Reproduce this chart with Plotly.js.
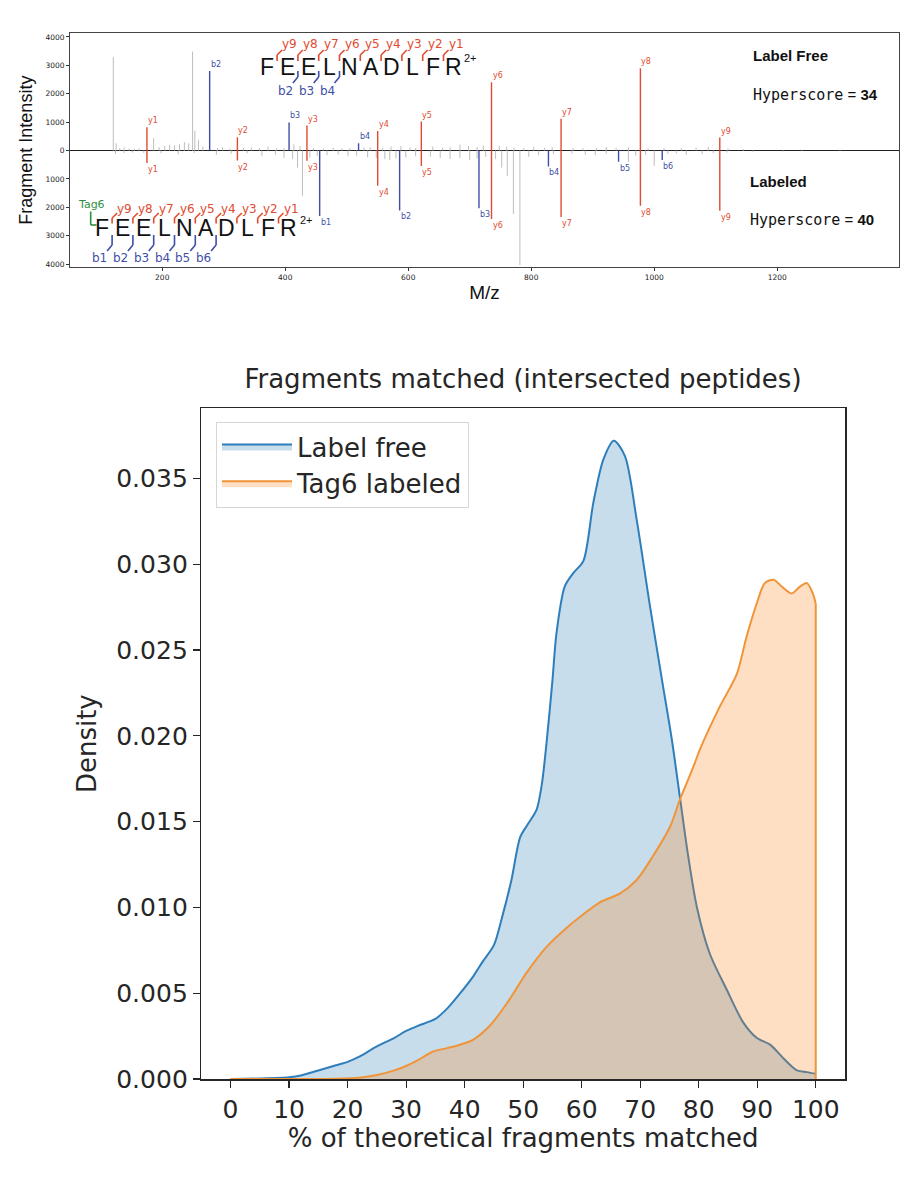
<!DOCTYPE html>
<html><head><meta charset="utf-8">
<script src="https://cdn.plot.ly/plotly-3.0.1.min.js"></script>
<style>body{margin:0;background:#fff}</style>
</head><body><div id="chart" style="width:924px;height:1200px"></div>
<script>
// ===== Top panel: mirror spectrum (label free up, Tag6 labeled down) =====
const yIonLabels = ['y1','y2','y3','y4','y5','y6','y7','y8','y9'];
const yIonMz     = [175.1, 322.2, 435.3, 550.3, 621.3, 735.4, 848.5, 977.5, 1106.6];
const yIonTopInt = [820, 470, 880, 690, 1020, 2410, 1120, 2900, 460];
const yIonBotInt = [440, 350, 360, 1240, 540, 2410, 2340, 1940, 2120];

const bIonTopLabels = ['b2','b3','b4'];
const bIonTopMz     = [277.1, 406.2, 519.2];
const bIonTopInt    = [2800, 990, 260];

const bIonBotLabels = ['b1','b2','b3','b4','b5','b6'];
const bIonBotMz     = [456, 586, 715, 828, 942, 1013];
const bIonBotInt    = [2300, 2110, 2030, 560, 390, 330];

const greyTopMz = [120.4,125,131,138,146,155,162,186,195,204,
  212,220,228,236,243,249.3,253,259,266,290,
  298,310,322,332,345,358,372,386,398,414,
  424,446,462,478,492,505,528,538,558,572,
  588,603,612,640,656,668,684,698,712,722,
  748,760,772,788,804,822,834,868,884,906,
  922,938,958,990,1016,1044,1068,1088,1120,1145,
  1240,1302];
const greyTopInt = [3290,260,90,110,70,60,80,436,120,160,
  200,180,220,300,250,3486,700,380,140,90,
  120,70,80,100,110,90,140,80,90,220,
  160,90,70,100,80,90,110,120,100,140,
  160,110,90,140,110,120,210,160,130,180,
  170,140,110,90,130,100,120,90,80,90,
  130,100,110,70,90,80,110,130,70,50,
  40,30];

const greyBotMz = [124,138,152,170,198,226,252,288,312,338,
  362,384,398,412,420,428,440,452,468,486,
  502,516,534,548,562,570,580,596,612,636,
  652,668,684,700,712,726,742,752,761,771,
  781.6,796,812,836,866,888,904,922,958,970,
  986,1000,1022,1036,1052,1078,1096,1118,1160,1210];
const greyBotInt = [120,90,70,80,100,130,90,150,110,100,
  180,150,260,300,600,1595,250,180,160,140,
  200,180,240,260,300,340,280,240,200,220,
  260,300,260,340,280,220,300,600,890,2229,
  4030,220,160,130,110,150,160,110,400,180,
  150,540,120,100,150,130,90,70,40,30];

const peptide = 'FEELNADLFR';
const xTicksTop = [200, 400, 600, 800, 1000, 1200];
const yTicksTop = [-4000, -3000, -2000, -1000, 0, 1000, 2000, 3000, 4000];

// ===== Bottom panel: KDE of % theoretical fragments matched =====
const pctLabelFree  = [0,5,10,12,15,18,20,22,25,28,30,32,35,37,39,41.5,43,45,46.3,48,49.5,50.9,52.3,53.2,54,55,55.7,57.1,58.6,60.3,62,63.7,65.5,67.4,69.4,71.7,73.9,75.4,76.8,78.2,79.7,81.9,84.8,87.6,89.9,92.2,94.5,96.8,98.5,100];
const densLabelFree = [0,0.00003,0.0001,0.0002,0.0005,0.0008,0.0010,0.0013,0.0019,0.0024,0.0028,0.0031,0.0035,0.0041,0.0049,0.0060,0.0068,0.0078,0.0093,0.0116,0.0141,0.0149,0.0157,0.0172,0.0196,0.0232,0.0260,0.0287,0.0295,0.0302,0.0336,0.0361,0.0372,0.0363,0.0326,0.0275,0.0229,0.0198,0.0164,0.0130,0.0100,0.0073,0.0052,0.0033,0.0024,0.0020,0.0012,0.0005,0.0004,0.0003];
const pctTag6  = [0,10,18,22,25,28,30,32,34.6,37,39.2,41.5,44.3,47.2,50.6,54,57.4,60.3,63.1,66.5,69.4,72.2,75.1,76.8,79.1,80.2,83.6,86.5,88.2,89.9,91.3,92.8,94.2,95.9,97.3,98.5,99.5,100];
const densTag6 = [0,0,0.00002,0.00008,0.00023,0.0005,0.00076,0.0011,0.0016,0.0018,0.0020,0.0023,0.0031,0.0044,0.0062,0.0077,0.0088,0.0096,0.0103,0.0108,0.0116,0.0130,0.0147,0.0163,0.0182,0.0192,0.0217,0.0236,0.0258,0.0277,0.0289,0.0291,0.0287,0.0283,0.0287,0.0289,0.0283,0.0277];
const xTicksBot = [0,10,20,30,40,50,60,70,80,90,100];
const yTicksBot = [0,0.005,0.010,0.015,0.020,0.025,0.030,0.035];

// ---------- helpers ----------
const W = 924, H = 1200;
const PX = p => p / W, PY = p => 1 - p / H;
function stems(mz, ints, sign) {
  const x = [], y = [];
  mz.forEach((m, i) => { x.push(m, m, null); y.push(0, sign * ints[i], null); });
  return {x, y};
}
const RED = '#e14b31', BLUE = '#3f4fa6', GREY = '#bdbdbd', GREEN = '#2f8f3f';

const traces = [];
function addStems(mz, ints, sign, color, w) {
  const s = stems(mz, ints, sign);
  traces.push({type:'scatter', mode:'lines', x:s.x, y:s.y, xaxis:'x', yaxis:'y',
    line:{color:color, width:w}, showlegend:false, hoverinfo:'skip'});
}
addStems(greyTopMz, greyTopInt, 1, GREY, 1);
addStems(greyBotMz, greyBotInt, -1, GREY, 1);
addStems(yIonMz, yIonTopInt, 1, RED, 1.4);
addStems(yIonMz, yIonBotInt, -1, RED, 1.4);
addStems(bIonTopMz, bIonTopInt, 1, BLUE, 1.4);
addStems(bIonBotMz, bIonBotInt, -1, BLUE, 1.4);

// KDE traces
traces.push({type:'scatter', mode:'lines', name:'Label free', x:pctLabelFree, y:densLabelFree,
  xaxis:'x2', yaxis:'y2', fill:'tozeroy', fillcolor:'rgba(31,119,180,0.25)',
  line:{color:'#2f7ebc', width:2, shape:'spline', smoothing:0.8}, hoverinfo:'skip'});
traces.push({type:'scatter', mode:'lines', name:'Tag6 labeled', x:pctTag6, y:densTag6,
  xaxis:'x2', yaxis:'y2', fill:'tozeroy', fillcolor:'rgba(255,127,14,0.25)',
  line:{color:'#f0943a', width:2, shape:'spline', smoothing:0.8}, hoverinfo:'skip'});
const lastT = pctTag6.length - 1;
traces.push({type:'scatter', mode:'lines', x:[pctTag6[lastT], pctTag6[lastT]], y:[densTag6[lastT], 0],
  xaxis:'x2', yaxis:'y2', line:{color:'#f0943a', width:2}, showlegend:false, hoverinfo:'skip'});

// ---------- annotations & shapes ----------
const annotations = [];
const shapes = [];
const LAB = {family:'Liberation Sans, Arial, sans-serif'};
function frag(labels, mz, ints, sign, color) {
  labels.forEach((t, i) => annotations.push({xref:'x', yref:'y', x:mz[i], y:sign*ints[i], text:t,
    showarrow:false, xanchor:'left', yanchor: sign > 0 ? 'bottom' : 'top', xshift:-1,
    font:{family:'DejaVu Sans', size:8, color:color}}));
}
frag(yIonLabels, yIonMz, yIonTopInt, 1, RED);
frag(yIonLabels, yIonMz, yIonBotInt, -1, RED);
frag(bIonTopLabels, bIonTopMz, bIonTopInt, 1, BLUE);
frag(bIonBotLabels, bIonBotMz, bIonBotInt, -1, BLUE);

function pline(x0, y0, x1, y1, color) {
  shapes.push({type:'line', xref:'paper', yref:'paper', x0:PX(x0), y0:PY(y0), x1:PX(x1), y1:PY(y1),
    line:{color:color, width:1.6}});
}
function peptideMap(c) {
  const sp = 20.8;
  for (let i = 0; i < peptide.length; i++) {
    annotations.push({xref:'paper', yref:'paper', x:PX(c.x0 + i*sp), y:PY(c.yc), text:peptide[i],
      showarrow:false, xanchor:'center', yanchor:'middle', height:20, font:{family:LAB.family, size:23, color:'#111'}});
  }
  annotations.push({xref:'paper', yref:'paper', x:PX(c.supX), y:PY(c.supY), text:'2+', showarrow:false,
    xanchor:'left', yanchor:'middle', font:{family:LAB.family, size:11, color:'#111'}});
  for (let k = 1; k <= 9; k++) {
    const bx = c.x0 + (k - 0.5) * sp;
    pline(bx, c.yB1, bx, c.yB2, RED); pline(bx, c.yB2, bx + 5, c.yB3, RED);
    annotations.push({xref:'paper', yref:'paper', x:PX(bx + 3), y:PY(c.yLab), text:'y' + (10 - k),
      showarrow:false, xanchor:'left', yanchor:'middle', font:{family:'DejaVu Sans', size:12, color:RED}});
  }
  c.bBonds.forEach(k => {
    const bx = c.x0 + (k - 0.5) * sp;
    pline(bx, c.bB1, bx, c.bB2, BLUE); pline(bx, c.bB2, bx - 5, c.bB3, BLUE);
    annotations.push({xref:'paper', yref:'paper', x:PX(bx - 3), y:PY(c.bLab), text:'b' + k,
      showarrow:false, xanchor:'right', yanchor:'middle', font:{family:'DejaVu Sans', size:12, color:BLUE}});
  });
}
peptideMap({x0:266.7, yc:67, yLab:44, yB1:61, yB2:55, yB3:50, bB1:71, bB2:77, bB3:83, bLab:90.5,
  bBonds:[2,3,4], supX:462, supY:58});
peptideMap({x0:101.7, yc:228, yLab:209, yB1:223.5, yB2:218, yB3:213, bB1:235, bB2:245, bB3:251, bLab:257.5,
  bBonds:[1,2,3,4,5,6], supX:298, supY:220});
// Tag6 marker
pline(90.7, 211.5, 90.7, 225, GREEN); pline(90.7, 225, 96.5, 225, GREEN);
annotations.push({xref:'paper', yref:'paper', x:PX(91.5), y:PY(204.5), text:'Tag6', showarrow:false,
  xanchor:'center', yanchor:'middle', font:{family:'DejaVu Sans', size:11, color:GREEN}});

// score boxes
annotations.push({xref:'paper', yref:'paper', x:PX(751), y:PY(56), text:'<b>Label Free</b>', showarrow:false,
  xanchor:'left', yanchor:'middle', font:{family:LAB.family, size:15, color:'#111'}});
annotations.push({xref:'paper', yref:'paper', x:PX(751), y:PY(95),
  text:'<span style="font-family:DejaVu Sans Mono">Hyperscore</span> = <b>34</b>', showarrow:false,
  xanchor:'left', yanchor:'middle', font:{family:LAB.family, size:15, color:'#111'}});
annotations.push({xref:'paper', yref:'paper', x:PX(748), y:PY(181), text:'<b>Labeled</b>', showarrow:false,
  xanchor:'left', yanchor:'middle', font:{family:LAB.family, size:15, color:'#111'}});
annotations.push({xref:'paper', yref:'paper', x:PX(748), y:PY(220),
  text:'<span style="font-family:DejaVu Sans Mono">Hyperscore</span> = <b>40</b>', showarrow:false,
  xanchor:'left', yanchor:'middle', font:{family:LAB.family, size:15, color:'#111'}});

const DV = 'DejaVu Sans, sans-serif';
const layout = {
  width: W, height: H, margin:{l:0, r:0, t:0, b:0}, paper_bgcolor:'#fff', plot_bgcolor:'#fff',
  showlegend: true,
  title: {text:'Fragments matched (intersected peptides)', x:PX(523), y:PY(379), xanchor:'center', yanchor:'middle',
    xref:'paper', yref:'paper', font:{family:DV, size:26, color:'#262626'}},
  xaxis: {domain:[PX(70), PX(899)], range:[50, 1398], anchor:'y', tickvals:xTicksTop,
    ticks:'outside', ticklen:3, tickcolor:'#333', showline:true, mirror:true, linecolor:'#444', linewidth:1,
    showgrid:false, zeroline:false, tickfont:{family:DV, size:7.5, color:'#222'},
    title:{text:'M/z', font:{family:LAB.family, size:19, color:'#111'}, standoff:4}, automargin:false},
  yaxis: {domain:[PY(267.3), PY(33)], range:[-4110, 4140], anchor:'x', tickvals:yTicksTop,
    ticktext:yTicksTop.map(v => String(Math.abs(v))), ticks:'outside', ticklen:3, tickcolor:'#333',
    showline:true, mirror:true, linecolor:'#444', linewidth:1, showgrid:false,
    zeroline:true, zerolinecolor:'#222', zerolinewidth:1.5, tickfont:{family:DV, size:7.5, color:'#222'},
    title:{text:'Fragment Intensity', font:{family:LAB.family, size:18, color:'#111'}, standoff:8}, automargin:false},
  xaxis2: {domain:[PX(201.3), PX(845)], range:[-5, 105], anchor:'y2', tickvals:xTicksBot,
    ticks:'outside', ticklen:7, tickwidth:1.2, tickcolor:'#262626', showline:true, mirror:true,
    linecolor:'#262626', linewidth:1.5, showgrid:false, zeroline:false,
    tickfont:{family:DV, size:25, color:'#262626'},
    title:{text:'% of theoretical fragments matched', font:{family:DV, size:26, color:'#262626'}, standoff:6}, automargin:false},
  yaxis2: {domain:[PY(1079), PY(408.3)], range:[0, 0.03909], anchor:'x2', tickvals:yTicksBot,
    ticktext:yTicksBot.map(v => v.toFixed(3)), ticks:'outside', ticklen:7, tickwidth:1.2, tickcolor:'#262626',
    showline:true, mirror:true, linecolor:'#262626', linewidth:1.5, showgrid:false, zeroline:false,
    tickfont:{family:DV, size:25, color:'#262626'},
    title:{text:'Density', font:{family:DV, size:26, color:'#262626'}, standoff:12}, automargin:false},
  legend: {x:PX(216), y:PY(422), xanchor:'left', yanchor:'top', xref:'paper', yref:'paper',
    bgcolor:'rgba(255,255,255,0.85)', bordercolor:'#d6d6d6', borderwidth:1,
    font:{family:DV, size:26, color:'#262626'}, itemwidth:70, tracegroupgap:0},
  annotations: annotations, shapes: shapes
};
Plotly.newPlot('chart', traces, layout, {displayModeBar:false, staticPlot:true});
</script></body></html>
